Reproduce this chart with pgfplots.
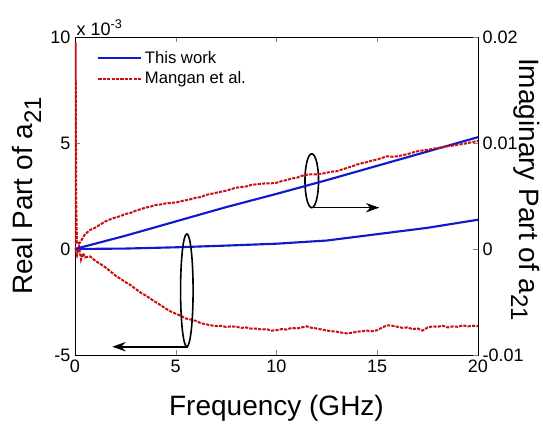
\documentclass[border=0pt]{standalone}
\usepackage{fontspec}
\setmainfont{Liberation Sans}
\usepackage{pgfplots}
\pgfplotsset{compat=1.18}
\usetikzlibrary{arrows.meta}

\definecolor{cblue}{RGB}{15,25,205}
\definecolor{cred}{RGB}{200,15,15}

\pgfplotsset{
  every axis/.append style={
    scale only axis, width=302.25pt, height=238.5pt,
    xmin=0, xmax=20, tick align=inside, major tick length=4pt,
    tick label style={font=\fontsize{13.5}{16}\selectfont},
    label style={font=\fontsize{21}{25}\selectfont},
    /pgf/number format/assume math mode=true,
    clip mode=individual,
  },
  blueline/.style={cblue, line width=1.6pt},
  redline/.style={cred, line width=1.5pt, dash pattern=on 2.4pt off 0.9pt},
}

\begin{document}
\begin{tikzpicture}
% left axis: real part (values in units of 1e-3)
\begin{axis}[ymin=-5, ymax=10, ytick={-5,0,5,10}, xtick={0,5,10,15,20},
  ytick pos=left,
  xlabel={Frequency (GHz)}, xlabel style={yshift=-10pt},
  ylabel={Real Part of a\raisebox{-0.3em}{\fontsize{18}{20}\selectfont 21}},
  legend style={draw=none, fill=none, at={(rel axis cs:0.055,0.965)}, anchor=north west,
    font=\fontsize{12.5}{15}\selectfont, cells={anchor=west}, inner sep=0pt,
    row sep=1pt},
  legend image code/.code={\draw[#1] (0pt,0pt) -- (32pt,0pt);}]
\addplot[blueline] coordinates {
(0,0) (2.5,0.02) (5,0.08) (7.5,0.16) (10,0.25) (12.5,0.4) (15,0.7) (17.5,1.0) (20,1.38)
};
\addlegendentry{This work}
\addplot[redline] coordinates {
(0,0) (0.1,-0.3) (0.2,0.1) (0.3,-0.5) (0.4,-0.2) (0.5,-0.4) (0.75,-0.35) (1,-0.55)
(1.25,-0.7) (1.5,-0.86) (1.75,-1.05) (2,-1.25) (2.25,-1.4) (2.5,-1.56) (2.75,-1.7)
(3,-1.88) (3.25,-2.05) (3.5,-2.19) (3.75,-2.35) (4,-2.5) (4.25,-2.65) (4.5,-2.81)
(4.75,-2.95) (5,-3.05) (5.25,-3.15) (5.5,-3.28) (5.75,-3.33) (6,-3.39) (6.25,-3.5)
(6.5,-3.55) (6.75,-3.6) (7,-3.64) (7.25,-3.62) (7.5,-3.68) (7.75,-3.65) (8,-3.67)
(8.25,-3.72) (8.5,-3.7) (8.75,-3.76) (9,-3.75) (9.25,-3.8) (9.5,-3.78) (9.75,-3.85)
(10,-3.83) (10.25,-3.78) (10.5,-3.8) (10.75,-3.72) (11,-3.75) (11.25,-3.7) (11.5,-3.65)
(11.75,-3.72) (12,-3.75) (12.25,-3.8) (12.5,-3.85) (12.75,-3.88) (13,-3.9) (13.25,-3.95)
(13.5,-3.98) (13.75,-3.95) (14,-3.9) (14.25,-3.88) (14.5,-3.85) (14.75,-3.88) (15,-3.83)
(15.25,-3.7) (15.5,-3.6) (15.75,-3.62) (16,-3.67) (16.25,-3.72) (16.5,-3.7) (16.75,-3.78)
(17,-3.75) (17.25,-3.85) (17.5,-3.7) (17.75,-3.65) (18,-3.67) (18.25,-3.62) (18.5,-3.7)
(18.75,-3.65) (19,-3.67) (19.25,-3.6) (19.5,-3.65) (19.75,-3.62) (20,-3.64)
};
\addlegendentry{Mangan et al.}
\node[anchor=south west, inner sep=1pt, font=\fontsize{13.5}{16}\selectfont]
  at (rel axis cs:0,1) {x 10\textsuperscript{-3}};
% annotations
\draw[line width=1.2pt] (axis cs:5.55,-1.95) ellipse [x radius=4.7pt, y radius=42.3pt];
\draw[line width=1.2pt,-{Stealth[length=10pt,width=7pt]}] (axis cs:5.6,-4.61) -- (axis cs:1.85,-4.61);
\draw[line width=1.2pt] (axis cs:11.75,3.22) ellipse [x radius=5.1pt, y radius=20.2pt];
\draw[line width=1.2pt,-{Stealth[length=10pt,width=7pt]}] (axis cs:11.8,1.95) -- (axis cs:15.1,1.95);
\end{axis}
% right axis: imaginary part (values in units of 1e-3)
\begin{axis}[ymin=-10, ymax=20, ytick={-10,0,10,20},
  yticklabels={-0.01,0,0.01,0.02},
  axis x line=none, axis y line*=right,
  ylabel={Imaginary Part of a\raisebox{-0.3em}{\fontsize{18}{20}\selectfont 21}},
  ylabel style={at={(axis description cs:1.118,0.52)}, anchor=center, rotate=180}]
\addplot[blueline] coordinates {
(0,0) (2.5,1.25) (5,2.6) (7.5,3.95) (10,5.2) (12.5,6.5) (15,7.85) (17.5,9.2) (20,10.55)
};
\addplot[redline] coordinates {
(0,0) (0.03,19.5) (0.06,4.5) (0.1,0.5) (0.25,0.6) (0.5,1.4) (0.75,1.8) (1,2.0)
(1.25,2.3) (1.5,2.6) (1.75,2.8) (2,2.97) (2.25,3.1) (2.5,3.3) (2.75,3.4) (3,3.6)
(3.25,3.75) (3.5,3.9) (3.75,4.0) (4,4.16) (4.25,4.2) (4.5,4.3) (4.75,4.35) (5,4.38)
(5.25,4.5) (5.5,4.6) (5.75,4.7) (6,4.84) (6.25,4.9) (6.5,5.1) (6.75,5.2) (7,5.31)
(7.25,5.4) (7.5,5.5) (7.75,5.65) (8,5.78) (8.25,5.85) (8.5,5.9) (8.75,6.05) (9,6.1)
(9.25,6.15) (9.5,6.2) (9.75,6.2) (10,6.25) (10.25,6.4) (10.5,6.5) (10.75,6.65) (11,6.72)
(11.25,6.9) (11.5,7.0) (11.75,7.05) (12,7.03) (12.25,7.1) (12.5,7.2) (12.75,7.3) (13,7.34)
(13.25,7.5) (13.5,7.65) (13.75,7.8) (14,7.97) (14.25,8.1) (14.5,8.2) (14.75,8.35) (15,8.44)
(15.25,8.6) (15.5,8.75) (15.75,8.7) (16,8.75) (16.25,8.85) (16.5,8.95) (16.75,9.1) (17,9.22)
(17.25,9.3) (17.5,9.35) (17.75,9.45) (18,9.53) (18.25,9.6) (18.5,9.7) (18.75,9.75) (19,9.84)
(19.25,9.9) (19.5,10.0) (19.75,10.1) (20,10.2)
};
\end{axis}
\pgfresetboundingbox
\useasboundingbox (-56.25pt,-51.75pt) rectangle (351pt,266.25pt);
\end{tikzpicture}
\end{document}
